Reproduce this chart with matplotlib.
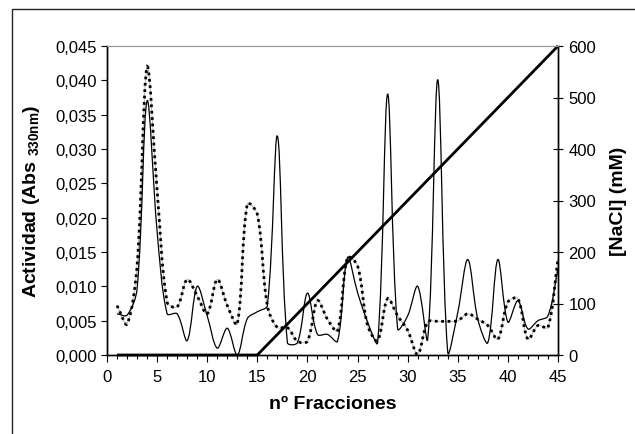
import numpy as np
import matplotlib
matplotlib.use("Agg")
import matplotlib.pyplot as plt
from matplotlib.path import Path
from matplotlib.patches import PathPatch, Rectangle
import matplotlib.ticker as ticker

plt.rcParams['font.family'] = ['Liberation Sans', 'DejaVu Sans']
plt.rcParams['mathtext.fontset'] = 'custom'
plt.rcParams['mathtext.rm'] = 'Liberation Sans'
plt.rcParams['mathtext.bf'] = 'Liberation Sans:bold'

# fractions 1..45
fracciones = list(range(1, 46))

actividad_a = [0.0060, 0.0058, 0.0096, 0.0370, 0.0180, 0.0060, 0.0060, 0.0021, 0.0100, 0.0057,
               0.0010, 0.0039, 0.0000, 0.0053, 0.0063, 0.0072, 0.0319, 0.0018, 0.0018, 0.0090,
               0.0030, 0.0030, 0.0020, 0.0142, 0.0091, 0.0048, 0.0018, 0.0380, 0.0038, 0.0057,
               0.0100, 0.0023, 0.0401, 0.0004, 0.0062, 0.0139, 0.0052, 0.0018, 0.0139, 0.0048,
               0.0079, 0.0038, 0.0050, 0.0057, 0.0125]

actividad_b = [0.0072, 0.0045, 0.0130, 0.0419, 0.0240, 0.0077, 0.0070, 0.0110, 0.0086, 0.0060,
               0.0110, 0.0072, 0.0045, 0.0220, 0.0205, 0.0072, 0.0040, 0.0040, 0.0020, 0.0020,
               0.0079, 0.0052, 0.0035, 0.0142, 0.0130, 0.0043, 0.0021, 0.0082, 0.0057, 0.0036,
               0.0001, 0.0048, 0.0049, 0.0049, 0.0050, 0.0060, 0.0052, 0.0043, 0.0023, 0.0077,
               0.0082, 0.0023, 0.0043, 0.0040, 0.0140]

nacl = [0, 0, 0, 0, 0, 0, 0, 0, 0, 0, 0, 0, 0, 0, 0,
        20, 40, 60, 80, 100, 120, 140, 160, 180, 200, 220, 240, 260, 280, 300,
        320, 340, 360, 380, 400, 420, 440, 460, 480, 500, 520, 540, 560, 580, 600]


def smooth_path(x, y, sx, sy, k=1 / 3):
    # smoothed line as cubic beziers, tangents weighted by on-screen segment lengths
    P = np.column_stack([np.asarray(x, float) * sx, np.asarray(y, float) * sy])
    n = len(P)
    d = np.hypot(*np.diff(P, axis=0).T)
    cin = [None] * n
    cout = [None] * n
    for i in range(n):
        a = P[max(i - 1, 0)]
        b = P[min(i + 1, n - 1)]
        T = b - a
        dp = d[i - 1] if i > 0 else 0.0
        dn = d[i] if i < n - 1 else 0.0
        s = dp + dn
        cout[i] = P[i] + T * k * (dn / s if s else 0)
        cin[i] = P[i] - T * k * (dp / s if s else 0)
    verts = [P[0]]
    codes = [Path.MOVETO]
    for i in range(n - 1):
        verts += [cout[i], cin[i + 1], P[i + 1]]
        codes += [Path.CURVE4] * 3
    verts = np.array(verts) / [sx, sy]
    return Path(verts, codes)


fig = plt.figure(figsize=(6.35, 4.35), dpi=100)
fig.patches.append(Rectangle((12 / 635, -0.1), 1.2, 1 - 10 / 435 + 0.1, transform=fig.transFigure,
                             fill=False, edgecolor='#222222', linewidth=1.0))

ax = fig.add_axes([107 / 635, 79 / 435, 451 / 635, 309 / 435])
ax2 = ax.twinx()

sx, sy = 451 / 45, 309 / 0.045
ax.add_patch(PathPatch(smooth_path(fracciones, actividad_b, sx, sy), fill=False, edgecolor='#aaaaaa',
                       linewidth=0.6, clip_on=False))
ax.add_patch(PathPatch(smooth_path(fracciones, actividad_b, sx, sy), fill=False, edgecolor='black',
                       linewidth=2.0, linestyle=(0, (1, 1.3)), clip_on=False))
ax.add_patch(PathPatch(smooth_path(fracciones, actividad_a, sx, sy), fill=False, edgecolor='black',
                       linewidth=0.9, clip_on=False))
ax2.plot(fracciones, nacl, color='black', linewidth=2.0, solid_capstyle='butt', clip_on=False)

ax.set_xlim(0, 45)
ax.set_ylim(0, 0.045)
ax2.set_ylim(0, 600)

ax.xaxis.set_major_locator(ticker.MultipleLocator(5))
ax.xaxis.set_minor_locator(ticker.MultipleLocator(1))
ax.yaxis.set_major_locator(ticker.MultipleLocator(0.005))
ax.yaxis.set_major_formatter(ticker.FuncFormatter(lambda v, p: f"{v:.3f}".replace('.', ',')))
ax2.yaxis.set_major_locator(ticker.MultipleLocator(100))

ax.tick_params(axis='x', which='major', direction='out', length=5, width=0.8, labelsize=12, pad=5)
ax.tick_params(axis='x', which='minor', direction='out', length=3, width=0.8)
ax.tick_params(axis='y', which='major', direction='out', length=4, width=0.8, labelsize=12, pad=3)
ax2.tick_params(axis='y', which='major', direction='inout', length=7, width=0.8, labelsize=12, pad=4)

for a in (ax, ax2):
    a.spines['top'].set_color('#999999')
    a.spines['top'].set_linewidth(0.8)
    for s in ('left', 'right', 'bottom'):
        a.spines[s].set_linewidth(1.0)

ax.set_xlabel('nº Fracciones', fontsize=14, fontweight='bold', labelpad=8)
ax.set_ylabel(r'Actividad (Abs $_{\mathbf{330nm}}$)', fontsize=14, fontweight='bold', labelpad=10)
ax2.set_ylabel('[NaCl] (mM)', fontsize=14, fontweight='bold', labelpad=10)

fig.savefig('out.png', dpi=100)
